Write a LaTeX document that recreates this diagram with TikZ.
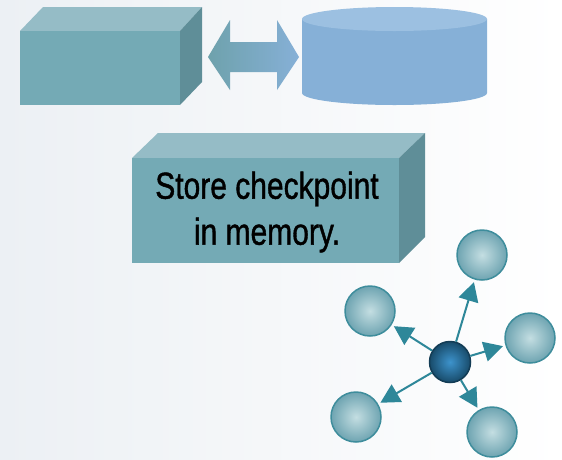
\documentclass[tikz,border=0pt]{standalone}
\usepackage{fontspec}
\setmainfont{Liberation Sans}
\newfontfamily\labelfont{Liberation Sans}[FakeBold=1.2]
\usepackage{tikz}
\usetikzlibrary{arrows.meta,shadings}
\definecolor{boxfront}{HTML}{74AAB5}
\definecolor{boxtop}{HTML}{95BCC6}
\definecolor{boxside}{HTML}{5F8E98}
\definecolor{cylbody}{HTML}{86B0D7}
\definecolor{cyltop}{HTML}{9CC0E1}
\definecolor{linkcol}{HTML}{2E8799}
\definecolor{peerin}{HTML}{C4DEE2}
\definecolor{peerout}{HTML}{6EA4B1}
\definecolor{peerline}{HTML}{3E8D9C}
\definecolor{hubin}{HTML}{3D93CC}
\definecolor{hubout}{HTML}{184B6A}
\definecolor{backleft}{HTML}{ECF0F4}
\tikzset{x=1pt,y=-1pt,
    peer/.style={circle,draw=peerline,line width=1.5pt,minimum size=50pt,
        inner color=peerin,outer color=peerout},
    hub/.style={circle,draw=hubout!80!black,line width=1.5pt,minimum size=41pt,
        inner color=hubin,outer color=hubout},
    link/.style={draw=linkcol,line width=2pt,shorten >=2.5pt,
        -{Triangle[length=19pt,width=20pt]}},
    label/.style={font=\labelfont\fontsize{37.5}{46}\selectfont}}

\begin{document}
\begin{tikzpicture}
\useasboundingbox (0,0) rectangle (562,459);
\shade[left color=backleft,right color=white] (0,0) rectangle (562,459);

% checkpoint box
\fill[boxtop] (20,31) -- (43,7) -- (202,7) -- (180,31) -- cycle;
\fill[boxside] (180,31) -- (202,7) -- (202,82) -- (180,105) -- cycle;
\fill[boxfront] (20,31) rectangle (180,105);

% two-way arrow
\shade[left color=boxfront!95!black,right color=cylbody]
    (208,57) -- (230,20) -- (230,42) -- (277,42) -- (277,20) -- (299,57)
    -- (277,90) -- (277,72) -- (230,72) -- (230,90) -- cycle;

% disk
\fill[cylbody] (302,19) -- (302,93) arc[start angle=180,end angle=0,x radius=92.5,y radius=12]
    -- (487,19) -- cycle;
\fill[cyltop] (394.5,19) ellipse[x radius=92.5,y radius=12];

% memory box
\fill[boxtop] (132,158) -- (158,133) -- (425,133) -- (399,158) -- cycle;
\fill[boxside] (399,158) -- (425,133) -- (425,237) -- (399,263) -- cycle;
\fill[boxfront] (132,158) rectangle (399,263);
\node[label] (memory) at (267,212.5) {\scalebox{0.80}[1]{\begin{tabular}{@{}c@{}}Store checkpoint\\in memory.\end{tabular}}};

% network
\node[peer] (top) at (482,255) {};
\node[peer] (upleft) at (370,311) {};
\node[peer] (right) at (530,338) {};
\node[peer] (lowleft) at (356,417) {};
\node[peer] (lowright) at (492,432) {};
\node[hub] (hub) at (450,362) {};
\foreach \p in {top,upleft,right,lowleft,lowright}
    \draw[link] (hub) -- (\p);
\end{tikzpicture}
\end{document}
